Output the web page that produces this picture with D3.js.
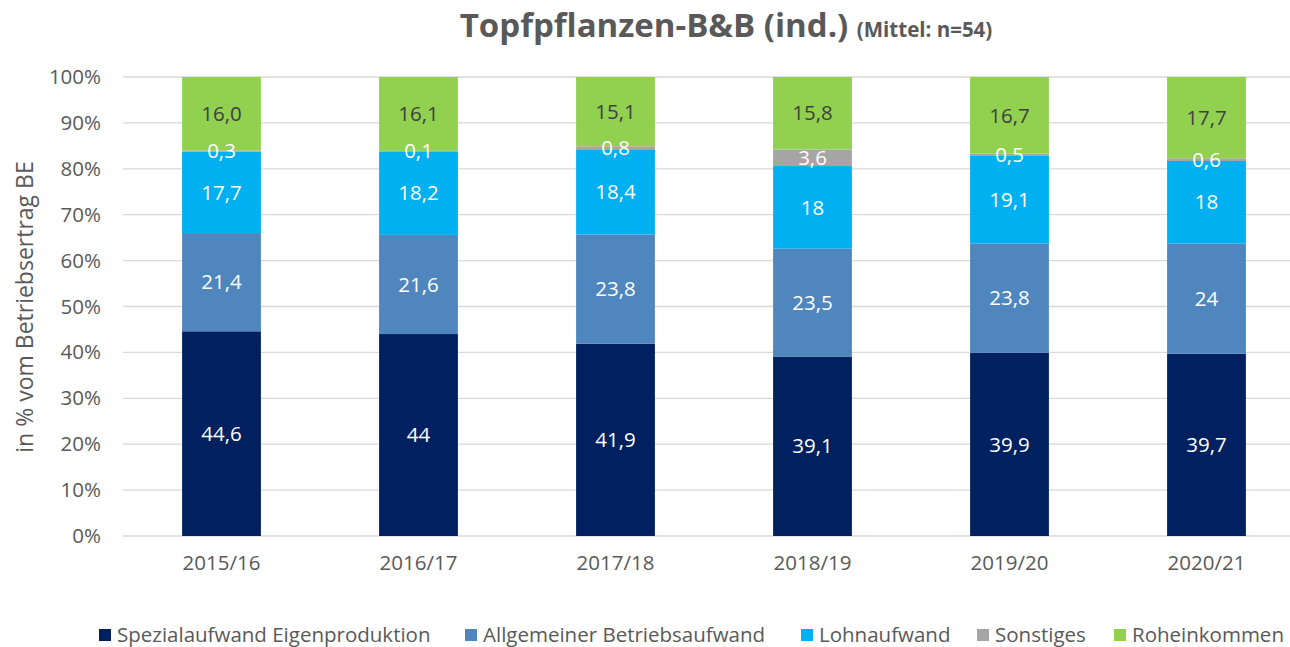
<!DOCTYPE html>
<html>
<head>
<meta charset="utf-8">
<script src="https://cdn.jsdelivr.net/npm/d3@7"></script>
<style>
  body { margin: 0; background: #fff; }
  text { font-family: "Open Sans", sans-serif; }
</style>
</head>
<body>
<div id="chart"></div>
<script>
// data
var years = ["2015/16", "2016/17", "2017/18", "2018/19", "2019/20", "2020/21"];
var seriesNames = ["Spezialaufwand Eigenproduktion", "Allgemeiner Betriebsaufwand", "Lohnaufwand", "Sonstiges", "Roheinkommen"];
var spezial = [44.6, 44, 41.9, 39.1, 39.9, 39.7];
var allgemein = [21.4, 21.6, 23.8, 23.5, 23.8, 24];
var lohn = [17.7, 18.2, 18.4, 18, 19.1, 18];
var sonstiges = [0.3, 0.1, 0.8, 3.6, 0.5, 0.6];
var roh = [16.0, 16.1, 15.1, 15.8, 16.7, 17.7];
var yTicks = [0, 10, 20, 30, 40, 50, 60, 70, 80, 90, 100];

var colors = ["#002060", "#4F86BE", "#00B0F0", "#A5A5A5", "#92D050"];
var labelColors = ["#fff", "#fff", "#fff", "#fff", "#404040"];

var width = 1290, height = 647;
var svg = d3.select("#chart").append("svg")
    .attr("width", width)
    .attr("height", height);

var rows = years.map(function (y, i) {
    return {year: y, s0: spezial[i], s1: allgemein[i], s2: lohn[i], s3: sonstiges[i], s4: roh[i]};
});
var keys = ["s0", "s1", "s2", "s3", "s4"];
var layers = d3.stack().keys(keys)(rows);

var x = d3.scaleBand()
    .domain(years)
    .range([123, 1305])
    .paddingInner(0.6)
    .paddingOuter(0.3);

var y = d3.scaleLinear()
    .domain([0, 100])
    .range([536, 77]);

// gridlines
svg.append("g")
    .selectAll("line")
    .data(yTicks)
    .enter()
    .append("line")
    .attr("x1", 123)
    .attr("x2", 1305)
    .attr("y1", function (d) { return y(d); })
    .attr("y2", function (d) { return y(d); })
    .attr("stroke", "#d9d9d9")
    .attr("stroke-width", 1.3);

// Y axis
var yAxis = svg.append("g")
    .attr("transform", "translate(123,0)")
    .call(d3.axisLeft(y).tickValues(yTicks).tickSize(0).tickPadding(22)
        .tickFormat(function (d) { return d + "%"; }));
yAxis.select(".domain").remove();
yAxis.selectAll("text")
    .style("font-size", "20.5px")
    .attr("fill", "#595959");

// X axis
var xAxis = svg.append("g")
    .attr("transform", "translate(0,536)")
    .call(d3.axisBottom(x).tickSize(0).tickPadding(19));
xAxis.select(".domain").remove();
xAxis.selectAll("text")
    .style("font-size", "20.5px")
    .attr("fill", "#595959");

// bars
var groups = svg.append("g")
    .selectAll("g")
    .data(layers)
    .enter()
    .append("g")
    .attr("fill", function (d, i) { return colors[i]; });

groups.selectAll("rect")
    .data(function (d) { return d; })
    .enter()
    .append("rect")
    .attr("x", function (d) { return x(d.data.year); })
    .attr("width", x.bandwidth())
    .attr("y", function (d) { return y(d[1]); })
    .attr("height", function (d) { return y(d[0]) - y(d[1]); });

// data labels (Roheinkommen always with one decimal)
function fmt(v, li) {
    var s = li === 4 ? v.toFixed(1) : String(v);
    return s.replace(".", ",");
}
svg.append("g")
    .selectAll("g")
    .data(layers)
    .enter()
    .append("g")
    .each(function (layer, li) {
        d3.select(this).selectAll("text")
            .data(layer)
            .enter()
            .append("text")
            .attr("x", function (d) { return x(d.data.year) + x.bandwidth() / 2; })
            .attr("y", function (d) { return y((d[0] + d[1]) / 2); })
            .attr("dy", "0.35em")
            .attr("text-anchor", "middle")
            .attr("fill", labelColors[li])
            .style("font-size", "20.5px")
            .text(function (d) { return fmt(d.data[keys[li]], li); });
    });

// Y label
svg.append("text")
    .attr("transform", "rotate(-90)")
    .attr("x", -307)
    .attr("y", 33)
    .attr("text-anchor", "middle")
    .attr("fill", "#595959")
    .style("font-size", "23px")
    .text("in % vom Betriebsertrag BE");

// Title
var title = svg.append("text")
    .attr("x", 726)
    .attr("y", 37)
    .attr("text-anchor", "middle")
    .attr("fill", "#595959")
    .style("font-weight", "bold");
title.append("tspan").style("font-size", "33px").text("Topfpflanzen-B&B (ind.) ");
title.append("tspan").style("font-size", "20.5px").text("(Mittel: n=54)");

// legend
var legendX = [99, 465, 801, 977, 1114];
var legend = svg.append("g")
    .selectAll("g")
    .data(seriesNames)
    .enter()
    .append("g")
    .attr("transform", function (d, i) { return "translate(" + legendX[i] + ",629)"; });
legend.append("rect")
    .attr("width", 12)
    .attr("height", 12)
    .attr("fill", function (d, i) { return colors[i]; });
legend.append("text")
    .attr("x", 18)
    .attr("y", 6)
    .attr("dy", "0.35em")
    .attr("fill", "#595959")
    .style("font-size", "20.5px")
    .text(function (d) { return d; });
</script>
</body>
</html>
